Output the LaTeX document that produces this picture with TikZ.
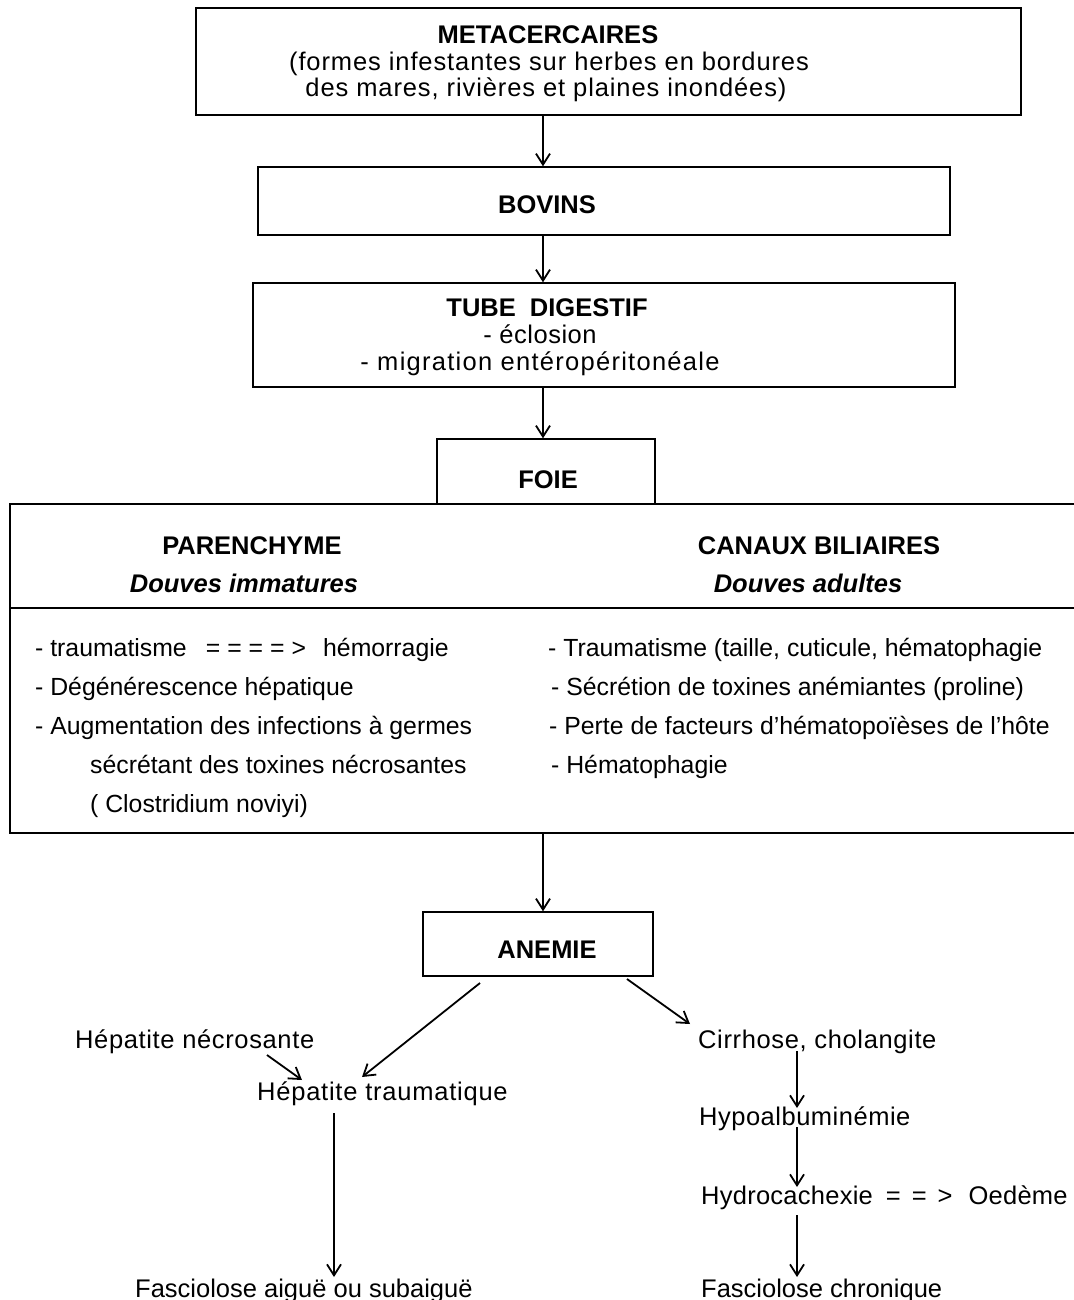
\documentclass[tikz,border=0pt]{standalone}
\usepackage{fontspec}
\setmainfont{Liberation Sans}
\usetikzlibrary{arrows.meta}
\begin{document}
\begin{tikzpicture}[x=1pt,y=-1pt,
  frame/.style={draw, line width=1.4pt, inner sep=0pt},
  arr/.style={line width=1.8pt, -{Straight Barb[length=11pt,width=14pt,line width=1.8pt]}},
  txt/.style={inner sep=0pt, font=\fontsize{25.5}{27}\selectfont},
  head/.style={txt, anchor=base},
  item/.style={txt, anchor=base west},
  listitem/.style={item, font=\fontsize{24.8}{27}\selectfont},
  spread/.style={font=\fontsize{25.5}{27}\selectfont\addfontfeature{LetterSpace=#1}}]
\useasboundingbox (0,0) rectangle (1073,1300);

% boxes of the flow
\node[frame, minimum width=825, minimum height=107] (meta)   at (608.5,61.5) {};
\node[frame, minimum width=692, minimum height=68]  (bovins) at (604,201) {};
\node[frame, minimum width=702, minimum height=104] (tube)   at (604,335) {};
\node[frame, minimum width=218, minimum height=65]  (foie)   at (546,471.5) {};
\node[frame, minimum width=1070, minimum height=329] (liver) at (545,668.5) {};
\node[frame, minimum width=230, minimum height=64]  (anemie) at (538,944) {};
\draw[line width=1.4pt] (liver.west |- 0,608) -- (liver.east |- 0,608);

% box texts
\node[head] (meta1) at (548,44) {\textbf{METACERCAIRES}};
\node[head, spread=3.5] (meta2) at (549,71) {(formes infestantes sur herbes en bordures};
\node[head, spread=3.5] (meta3) at (546,97) {des mares, rivières et plaines inondées)};
\node[head] (bovT)  at (547,213) {\textbf{BOVINS}};
\node[head] (tube1) at (547,316) {\textbf{TUBE\ \ DIGESTIF}};
\node[head, spread=2] (tube2) at (540,343) {- éclosion};
\node[head, spread=5] (tube3) at (540,370) {- migration entéropéritonéale};
\node[head] (foieT) at (548,488) {\textbf{FOIE}};
\node[head] (par1) at (252,554) {\textbf{PARENCHYME}};
\node[head] (par2) at (244,592) {\textbf{\itshape Douves immatures}};
\node[head] (can1) at (819,554) {\textbf{CANAUX BILIAIRES}};
\node[head] (can2) at (808,592) {\textbf{\itshape Douves adultes}};

% lists
\node[listitem] (l1) at (35,656) {- traumatisme\hspace{19pt}=\hspace{7pt}=\hspace{7pt}=\hspace{7pt}=\hspace{7pt}>\hspace{17pt}hémorragie};
\node[listitem] (l2) at (35,695) {- Dégénérescence hépatique};
\node[listitem] (l3) at (35,734) {- Augmentation des infections à germes};
\node[listitem] (l4) at (90,773) {sécrétant des toxines nécrosantes};
\node[listitem] (l5) at (90,812) {( Clostridium noviyi)};
\node[listitem] (r1) at (548,656) {- Traumatisme (taille, cuticule, hématophagie};
\node[listitem] (r2) at (551,695) {- Sécrétion de toxines anémiantes (proline)};
\node[listitem] (r3) at (549,734) {- Perte de facteurs d'hématopoïèses de l'hôte};
\node[listitem] (r4) at (551,773) {- Hématophagie};

\node[head] (anT) at (547,958) {\textbf{ANEMIE}};

% consequences
\node[item, spread=2.5] (necro)  at (75,1048)  {Hépatite nécrosante};
\node[item, spread=3] (trauma) at (257,1100) {Hépatite traumatique};
\node[item] (aigue)  at (135,1297) {Fasciolose aiguë ou subaiguë};
\node[item, spread=2.5] (cirr)   at (698,1048) {Cirrhose, cholangite};
\node[item, spread=2] (hypo)   at (699,1125) {Hypoalbuminémie};
\node[item, spread=1] (hydro)  at (701,1204) {Hydrocachexie\hspace{13pt}=\hspace{11pt}=\hspace{11pt}>\hspace{16pt}Oedème};
\node[item] (chron)  at (701,1297) {Fasciolose chronique};

% connectors
\coordinate (ax) at (543,0);
\draw[arr] (ax |- meta.south) -- (ax |- bovins.north);
\draw[arr] (ax |- bovins.south) -- (ax |- tube.north);
\draw[arr] (ax |- tube.south) -- (ax |- foie.north);
\draw[arr] (ax |- liver.south) -- (ax |- anemie.north);

\coordinate (aL0) at (480,983);
\coordinate (aL1) at (362,1077);
\coordinate (aR0) at (627,979);
\coordinate (aR1) at (690,1024);
\coordinate (n0) at (267,1055);
\coordinate (n1) at (302,1080);
\draw[arr] (aL0) -- (aL1);
\draw[arr] (aR0) -- (aR1);
\draw[arr] (n0) -- (n1);

\coordinate (lx) at (334,0);
\coordinate (rx) at (797,0);
\draw[arr] (lx |- 0,1113) -- (lx |- 0,1277);
\draw[arr] (rx |- 0,1051) -- (rx |- 0,1108);
\draw[arr] (rx |- 0,1127) -- (rx |- 0,1187);
\draw[arr] (rx |- 0,1215) -- (rx |- 0,1277);
\end{tikzpicture}
\end{document}
